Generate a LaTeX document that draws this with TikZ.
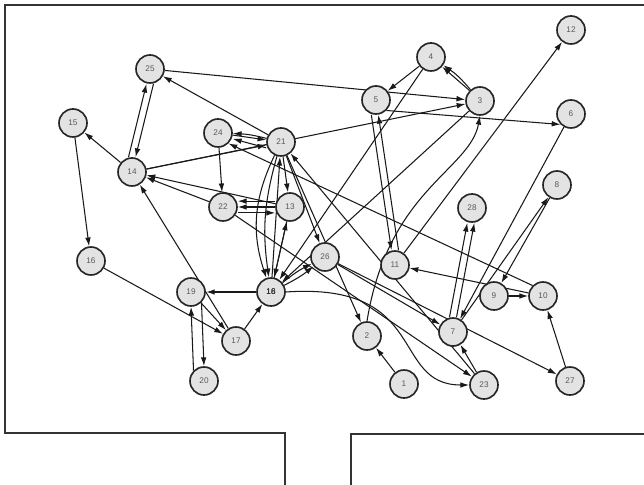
\documentclass[tikz,border=0pt]{standalone}
\usepackage{fontspec}
\setmainfont{Liberation Sans}
\usetikzlibrary{arrows.meta,backgrounds}
\begin{document}
\begin{tikzpicture}[x=0.03cm,y=-0.03cm,
  vtx/.style={circle,draw=black!85,line width=1.4pt,fill=black!11,minimum size=0.84cm,inner sep=0pt,font=\fontsize{7}{8}\selectfont,text=black!65},
  ed/.style={line width=0.9pt,draw=black!90,-{Latex[length=7.5pt,width=4.8pt]}},
  thk/.style={line width=2pt},
  framel/.style={line width=1.1pt,draw=black!80}]
\useasboundingbox (0,0) rectangle (644,485);
% frame
\draw[framel] (644,5) -- (5,5) -- (5,433) -- (285,433) -- (285,485);
\draw[framel] (644,434) -- (351,434) -- (351,485);
% nodes
\node[vtx] (n1) at (404,384) {1};
\node[vtx] (n2) at (367,336) {2};
\node[vtx] (n3) at (480,101) {3};
\node[vtx] (n4) at (431,57) {4};
\node[vtx] (n5) at (376,100) {5};
\node[vtx] (n6) at (571,114) {6};
\node[vtx] (n7) at (453,332) {7};
\node[vtx] (n8) at (557,185) {8};
\node[vtx] (n9) at (494,296) {9};
\node[vtx] (n10) at (543,296) {10};
\node[vtx] (n11) at (395,265) {11};
\node[vtx] (n12) at (571,30) {12};
\node[vtx] (n13) at (290,207) {13};
\node[vtx] (n14) at (132,172) {14};
\node[vtx] (n15) at (73,123) {15};
\node[vtx] (n16) at (91,261) {16};
\node[vtx] (n17) at (236,341) {17};
\node[vtx] (n18) at (271,292) {};
\node[font=\fontsize{7}{8}\selectfont,text=black!85] (t18a) at (n18) {18};
\node[font=\fontsize{7}{8}\selectfont,text=black!85] (t18b) at (n18) {16};
\node[vtx] (n19) at (191,292) {19};
\node[vtx] (n20) at (204,381) {20};
\node[vtx] (n21) at (281,142) {21};
\node[vtx] (n22) at (223,207) {22};
\node[vtx] (n23) at (484,385) {23};
\node[vtx] (n24) at (218,133) {24};
\node[vtx] (n25) at (150,69) {25};
\node[vtx] (n26) at (325,257) {26};
\node[vtx] (n27) at (570,381) {27};
\node[vtx] (n28) at (472,208) {28};
\begin{pgfonlayer}{background}
\draw[ed] (n1) -- (n2);
\draw[ed] (n2.north) .. controls (388,190) and (470,170) .. (n3.south);
\draw[ed] (n21) -- (n2);
\draw[ed] (n3) to[bend right=8] (n4);
\draw[ed] (n3.north west) -- (n4);
\draw[ed] (n25) -- (n3);
\draw[ed] (n4) -- (n5);
\draw[ed] (n4) -- (n18);
\draw[ed] (n3) -- (n18);
\draw[ed] (n5.south east) -- (n6.south west);
\draw[ed] ([xshift=-4pt]n5.south) -- ([xshift=-3pt]n11.north);
\draw[ed] ([xshift=3pt]n11.north) -- ([xshift=2pt]n5.south);
\draw[ed] (n11) -- (n12);
\draw[ed] (n6) -- (n7);
\draw[ed] (n7) -- (n8);
\draw[ed] (n8) -- (n9);
\draw[ed] ([xshift=-3pt]n7.north) -- ([xshift=-4pt]n28.south);
\draw[ed] ([xshift=3pt]n7.north) -- ([xshift=2pt]n28.south);
\draw[ed] (n9) -- (n10);
\draw[ed] (n27) -- (n10);
\draw[ed] (n10) -- (n11);
\draw[ed] (n10.north west) -- (n24.south east);
\draw[ed] (n23) -- (n7);
\draw[ed] (n26) -- (n7);
\draw[ed] (n26) -- (n27);
\draw[ed] (n22) -- (n23);
\draw[ed] (n18.east) .. controls (430,282) and (390,385) .. (n23.west);
\draw[ed] (n23) -- (n21);
\draw[ed] (n21) -- (n26);
\draw[ed] (n21) -- (n25);
\draw[ed] ([xshift=-3pt]n14.north) -- ([xshift=-3pt]n25.south);
\draw[ed] ([xshift=3pt]n25.south) -- ([xshift=3pt]n14.north);
\draw[ed] (n14) -- (n15);
\draw[ed] (n15) -- (n16);
\draw[ed] (n16) -- (n17);
\draw[ed] (n14) -- (n3);
\draw[ed] (n14) -- (n21);
\draw[ed] (n13) -- (n14);
\draw[ed] (n22) -- (n14);
\draw[ed] (n17) -- (n14);
\draw[ed] (n21) to[bend right=6] (n24);
\draw[ed] (n24) -- (n21);
\draw[ed] ([yshift=-5pt]n21.west) -- ([yshift=-5pt]n24.east);
\draw[ed] (n24) -- (n22);
\draw[ed] ([yshift=5pt]n13.west) -- ([yshift=5pt]n22.east);
\draw[ed] (n13) -- (n22);
\draw[ed] ([yshift=-5pt]n22.east) -- ([yshift=-5pt]n13.west);
\draw[ed] (n21) -- (n13);
\draw[ed] (n21) to[bend right=22] (n18);
\draw[ed] (n21) to[bend right=12] (n18);
\draw[ed] (n18) -- (n21);
\draw[ed] (n18) -- (n13);
\draw[ed] (n13) -- (n18);
\draw[ed,thk] (n18) -- (n19);
\draw[ed] (n19) -- (n17);
\draw[ed] (n19.south east) -- (n20.north);
\draw[ed] (n20.north west) -- (n19.south);
\draw[ed] (n17) -- (n18);
\draw[ed] (n18) to[bend left=6] (n26);
\draw[ed] (n18) to[bend right=6] (n26);
\end{pgfonlayer}
\end{tikzpicture}
\end{document}
